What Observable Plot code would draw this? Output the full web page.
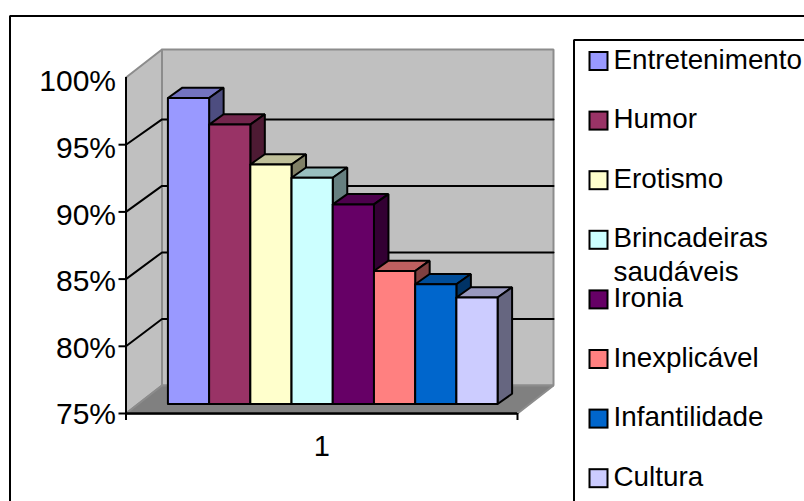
<!DOCTYPE html>
<html>
<head>
<meta charset="utf-8">
<style>html,body{margin:0;padding:0;background:#fff;overflow:hidden}svg{display:block}</style>
<script src="https://cdn.jsdelivr.net/npm/d3@7"></script>
<script src="https://cdn.jsdelivr.net/npm/@observablehq/plot@0.6"></script>
</head>
<body>
<div id="chart"></div>
<script>
const series = ["Entretenimento","Humor","Erotismo","Brincadeiras\nsaudáveis","Ironia","Inexplicável","Infantilidade","Cultura"];
const values = [98,96,93,92,90,85,84,83];
const colors = ["#9999FF","#993366","#FFFFCC","#CCFFFF","#660066","#FF8080","#0066CC","#CCCCFF"];
const yTicks = [75,80,85,90,95,100];
const category = "1";

const W = 804, H = 501;
const xDomain = [0, 9.5], xRange = [125.5, 517];
const yDomain = [75, 100], yRange = [413, 77];
const unit = (xRange[1]-xRange[0])/xDomain[1];
const pct = (yRange[0]-yRange[1])/(yDomain[1]-yDomain[0]);
// inverse helpers: page chrome expressed in the chart's scale units
const X = px => (px-xRange[0])/unit;
const Y = py => 75+(yRange[0]-py)/pct;

// oblique projection
const depthX = 36/unit, depthY = 28/pct, shrink = 0.99;
const back = v => 75+(v-75)*shrink+depthY;
const barX = 0.75+11/unit, barY = 9.5/pct;
const barDX = 14.5/unit, barDY = 10.3/pct;
const front = v => 75+(v-75)*shrink+barY;

const poly = (id, fill, pts) => [...pts, pts[0]].map(([x,y]) => ({id, fill, x, y}));
const shade = (c,k) => { const r=d3.rgb(c); return d3.rgb(r.r*k,r.g*k,r.b*k).formatHex(); };

const wallTop = 100+depthY;
const walls = [
  ...poly("left","#C0C0C0",[[0,75],[0,100],[depthX,wallTop],[depthX,75+depthY]]),
  ...poly("back","#C0C0C0",[[depthX,wallTop],[xDomain[1]+depthX,wallTop],[xDomain[1]+depthX,75+depthY],[depthX,75+depthY]]),
  ...poly("floor","#808080",[[0,75],[depthX,75+depthY],[xDomain[1]+depthX,75+depthY],[xDomain[1],75]])
];

const grid = yTicks.slice(1,-1).flatMap(v => [
  {id:v,x:0,y:v},{id:v,x:depthX,y:back(v)},{id:v,x:xDomain[1]+depthX,y:back(v)}
]);

const bars = values.flatMap((v,i) => {
  const x0 = barX+i, x1 = x0+1, y0 = front(75), y1 = front(v), c = colors[i];
  return [
    ...poly("t"+i, shade(c,.75), [[x0,y1],[x1,y1],[x1+barDX,y1+barDY],[x0+barDX,y1+barDY]]),
    ...poly("s"+i, shade(c,.5), [[x1,y0],[x1,y1],[x1+barDX,y1+barDY],[x1+barDX,y0+barDY]]),
    ...poly("f"+i, c, [[x0,y0],[x0,y1],[x1,y1],[x1,y0]])
  ];
});

const legendRows = series.map((s,i) => ({s, c:colors[i], cy:61+59.6*i}));
const polyMark = (data, opts) => Plot.line(data, {x:"x", y:"y", z:"id", fill:"fill", curve:"linear", strokeLinejoin:"miter", ...opts});

const chart = Plot.plot({
  width:W, height:H, margin:0,
  style:{background:"#fff", fontFamily:"'Liberation Sans',Arial,sans-serif", color:"#000"},
  x:{domain:xDomain, range:xRange, axis:null},
  y:{domain:yDomain, range:yRange, axis:null},
  color:{type:"identity"},
  marks:[
    // outer chart frame and legend frame
    Plot.line([{x:X(9.5),y:Y(H+5)},{x:X(9.5),y:Y(15.5)},{x:X(W+5),y:Y(15.5)}],{x:"x",y:"y",stroke:"#000",strokeWidth:2,strokeLinejoin:"miter"}),
    Plot.line([{x:X(573.5),y:Y(H+5)},{x:X(573.5),y:Y(39.5)},{x:X(W+5),y:Y(39.5)}],{x:"x",y:"y",stroke:"#000",strokeWidth:2,strokeLinejoin:"miter"}),
    // walls and floor
    polyMark(walls,{stroke:"#8c8c8c",strokeWidth:2}),
    // gridlines
    Plot.line(grid,{x:"x",y:"y",z:"id",stroke:"#000",strokeWidth:2,curve:"linear"}),
    // axes
    Plot.ruleX([0],{y1:Y(420),y2:100,stroke:"#000",strokeWidth:2}),
    Plot.ruleX([xDomain[1]],{y1:Y(420),y2:75,stroke:"#000",strokeWidth:2}),
    Plot.ruleY([75],{x1:0,x2:xDomain[1],stroke:"#000",strokeWidth:2.5}),
    Plot.ruleY(yTicks.slice(0,-1),{x1:X(118.5),x2:0,stroke:"#000",strokeWidth:2}),
    // bars
    polyMark(bars,{stroke:"#000",strokeWidth:2}),
    // labels
    Plot.text(yTicks,{x:X(115.5),y:d=>75+(d-75)*shrink,text:d=>d+"%",textAnchor:"end",dy:1,fontSize:30}),
    Plot.text([category],{x:xDomain[1]/2,y:Y(446),text:d=>d,fontSize:29}),
    // legend
    Plot.rect(legendRows,{x1:X(589.5),x2:X(607.5),y1:d=>Y(d.cy-9),y2:d=>Y(d.cy+9),fill:"c",stroke:"#000",strokeWidth:2}),
    Plot.text(legendRows,{x:X(613),y:d=>Y(d.cy-17),text:"s",textAnchor:"start",lineAnchor:"top",lineHeight:1.22,fontSize:27.8})
  ]
});
document.getElementById("chart").appendChild(chart);
</script>
</body>
</html>
